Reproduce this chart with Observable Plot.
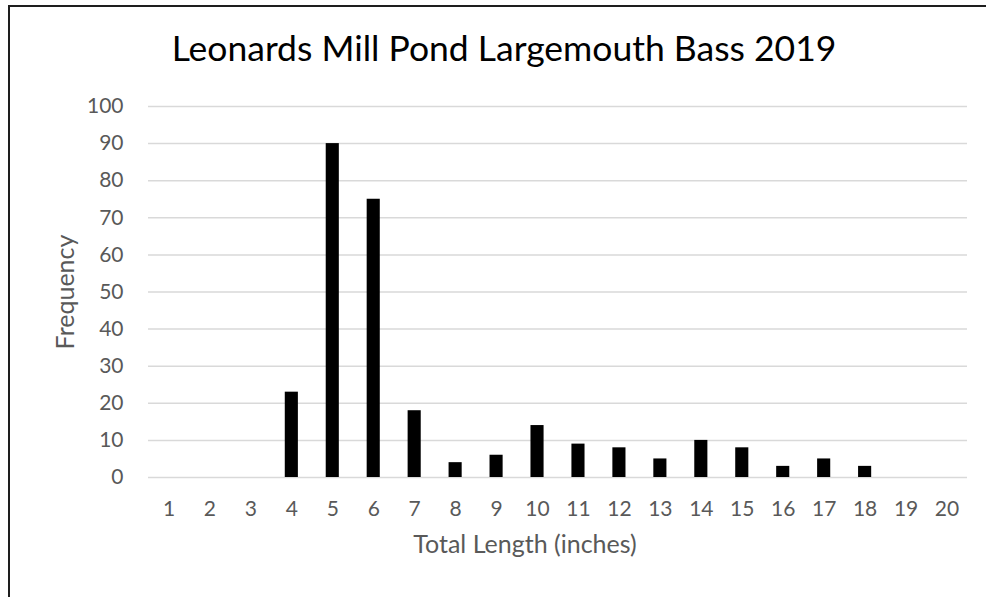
<!DOCTYPE html>
<html>
<head>
<meta charset="utf-8">
<script src="https://cdn.jsdelivr.net/npm/d3@7"></script>
<script src="https://cdn.jsdelivr.net/npm/@observablehq/plot@0.6"></script>
<style>
  html, body { margin: 0; padding: 0; background: #fff; }
  body { width: 986px; height: 597px; overflow: hidden; position: relative; font-family: Lato, "Open Sans", sans-serif; }
  #frame { position: absolute; left: 8px; top: 5px; width: 990px; height: 600px; border-left: 2px solid #1e1e1e; border-top: 2px solid #1e1e1e; pointer-events: none; }
  #title { height: 80px; box-sizing: border-box; padding-top: 27px; padding-left: 22px; text-align: center; font-size: 35.5px; line-height: 1.2; color: #000; white-space: nowrap; }
  #chart svg { display: block; }
</style>
</head>
<body>
<div id="frame"></div>
<div id="title">Leonards Mill Pond Largemouth Bass 2019</div>
<div id="chart"></div>
<script>
const titleText = "Leonards Mill Pond Largemouth Bass 2019";
const xLabel = "Total Length (inches)";
const yLabel = "Frequency";
const lengths = [1, 2, 3, 4, 5, 6, 7, 8, 9, 10, 11, 12, 13, 14, 15, 16, 17, 18, 19, 20];
const frequencies = [0, 0, 0, 23, 90, 75, 18, 4, 6, 14, 9, 8, 5, 10, 8, 3, 5, 3, 0, 0];
const yTicks = [0, 10, 20, 30, 40, 50, 60, 70, 80, 90, 100];

const data = lengths.map((len, i) => ({len, freq: frequencies[i]}));
document.getElementById("title").textContent = titleText;

const chart = Plot.plot({
  width: 986,
  height: 517,
  marginTop: 26,
  marginBottom: 120,
  marginLeft: 148,
  marginRight: 19,
  style: {fontFamily: "Lato, 'Open Sans', sans-serif", fontSize: "21px", color: "#595959", background: "transparent", overflow: "visible"},
  x: {type: "band", domain: lengths, paddingInner: 0.68, paddingOuter: 0.34, round: false, label: null},
  y: {domain: [0, 100], label: null},
  marks: [
    Plot.gridY(yTicks, {stroke: "#d9d9d9", strokeOpacity: 1, strokeWidth: 1.5}),
    Plot.barY(data, {x: "len", y: "freq", fill: "#000"}),
    Plot.axisY(yTicks, {tickSize: 0, tickPadding: 25, fill: "#595959", label: null}),
    Plot.axisX({tickSize: 0, tickPadding: 24, fill: "#595959", label: null}),
    Plot.text([xLabel], {frameAnchor: "bottom", dy: 75, dx: -33, fontSize: 25, fill: "#595959", text: d => d}),
    Plot.text([yLabel], {frameAnchor: "left", textAnchor: "middle", dx: -83, rotate: -90, fontSize: 25, fill: "#595959", text: d => d})
  ]
});
document.getElementById("chart").appendChild(chart);
</script>
</body>
</html>
